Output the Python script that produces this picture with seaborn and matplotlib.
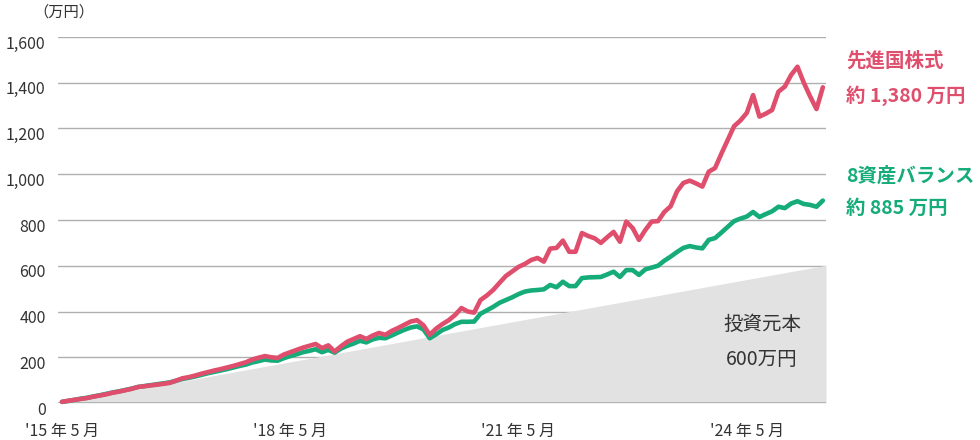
import pandas as pd
import matplotlib.pyplot as plt
import matplotlib.transforms as mtransforms
import seaborn as sns

# monthly values, May 2015 .. May 2025 (万円)
developed = [5, 10, 14, 18, 22, 28, 33, 38, 45, 50,
             56, 62, 70, 73, 77, 80, 84, 88, 98, 108,
             113, 120, 128, 135, 142, 148, 155, 162, 170, 178,
             190, 198, 205, 200, 197, 212, 222, 232, 242, 250,
             258, 240, 252, 225, 248, 268, 280, 292, 280, 295,
             306, 298, 315, 328, 342, 356, 362, 340, 298, 325,
             345, 362, 385, 415, 400, 395, 450, 470, 494, 525,
             555, 575, 595, 608, 625, 634, 618, 675, 678, 710,
             661, 661, 743, 730, 720, 700, 725, 748, 705, 793,
             765, 713, 756, 793, 795, 835, 860, 925, 962, 972,
             960, 946, 1011, 1027, 1090, 1150, 1210, 1235, 1268, 1346,
             1252, 1265, 1281, 1361, 1383, 1434, 1470, 1400, 1340, 1285,
             1380]
balance8 = [5, 9, 14, 19, 23, 29, 34, 40, 46, 51,
            57, 63, 70, 74, 78, 82, 86, 90, 97, 105,
            110, 116, 123, 130, 136, 142, 148, 155, 162, 168,
            177, 183, 190, 186, 185, 196, 205, 213, 222, 228,
            235, 222, 232, 220, 238, 250, 260, 272, 265, 278,
            285, 283, 295, 308, 320, 330, 335, 322, 283, 300,
            319, 330, 345, 355, 355, 356, 390, 405, 420, 438,
            450, 462, 476, 487, 492, 494, 497, 516, 506, 530,
            511, 511, 546, 549, 550, 551, 562, 574, 551, 581,
            581, 560, 584, 592, 600, 622, 640, 660, 678, 686,
            680, 676, 713, 721, 745, 770, 795, 806, 815, 835,
            813, 826, 838, 858, 852, 872, 882, 870, 866, 858,
            885]
principal_months = [0, 120.5]
principal_values = [0, 602]

tick_months = [0, 36, 72, 108]
tick_labels = ["'15 年 5 月", "'18 年 5 月", "'21 年 5 月", "'24 年 5 月"]
y_ticks = [0, 200, 400, 600, 800, 1000, 1200, 1400, 1600]

RED = '#DF4F6D'
GREEN = '#16AC79'

sns.set_style("white")
plt.rcParams['font.family'] = ['Noto Sans CJK JP', 'DejaVu Sans']

n = len(developed)
df = pd.DataFrame({
    'month': list(range(n)) * 2,
    'value': balance8 + developed,
    'series': ['8資産バランス'] * n + ['先進国株式'] * n,
})

fig = plt.figure(figsize=(9.8, 4.4), dpi=100)
ax = fig.add_axes([58 / 980, 37 / 440, 768 / 980, 366 / 440])

ax.fill_between(principal_months, 0, principal_values, color='#E2E2E2', lw=0, zorder=2)
ax.axhline(0, color='#B5B5B5', lw=1.5, zorder=3)

sns.lineplot(data=df, x='month', y='value', hue='series',
             hue_order=['8資産バランス', '先進国株式'],
             palette={'8資産バランス': GREEN, '先進国株式': RED},
             linewidth=3.3, legend=False, ax=ax, zorder=4,
             solid_joinstyle='round', solid_capstyle='round', clip_on=False)

ax.set_xlim(-0.63, 120.5)
ax.set_ylim(0, 1600)
ax.set_yticks(y_ticks)
ax.set_yticklabels([f'{v:,}' for v in y_ticks])
ax.set_xticks(tick_months)
ax.set_xticklabels(tick_labels)
ax.set_xlabel('')
ax.set_ylabel('')
ax.yaxis.grid(True, color='#AFAFAF', lw=1)
ax.set_axisbelow(True)
for s in ax.spines.values():
    s.set_visible(False)
ax.tick_params(axis='y', length=0, pad=9, labelsize=11.5, labelcolor='#333333')
ax.tick_params(axis='x', length=0, pad=14, labelsize=11.5, labelcolor='#333333')

# y labels sit a little below their gridlines in the original
shift = mtransforms.ScaledTranslation(0, -5 / 100, fig.dpi_scale_trans)
for lab in ax.get_yticklabels():
    lab.set_transform(lab.get_transform() + shift)

fig.text(64 / 980, 1 - 12 / 440, '（万円）', ha='center', va='center', fontsize=11, color='#333333')

fig.text(846 / 980, 1 - 61 / 440, '先進国株式', ha='left', va='center', fontsize=14, color=RED, fontweight='bold')
fig.text(846 / 980, 1 - 96 / 440, '約 1,380 万円', ha='left', va='center', fontsize=14, color=RED, fontweight='bold')
fig.text(846 / 980, 1 - 176 / 440, '8資産バランス', ha='left', va='center', fontsize=14, color=GREEN, fontweight='bold')
fig.text(846 / 980, 1 - 208 / 440, '約 885 万円', ha='left', va='center', fontsize=14, color=GREEN, fontweight='bold')

fig.text(762 / 980, 1 - 324 / 440, '投資元本', ha='center', va='center', fontsize=14, color='#333333')
fig.text(762 / 980, 1 - 359 / 440, '600万円', ha='center', va='center', fontsize=14, color='#333333')

fig.savefig('out.png', dpi=100)
